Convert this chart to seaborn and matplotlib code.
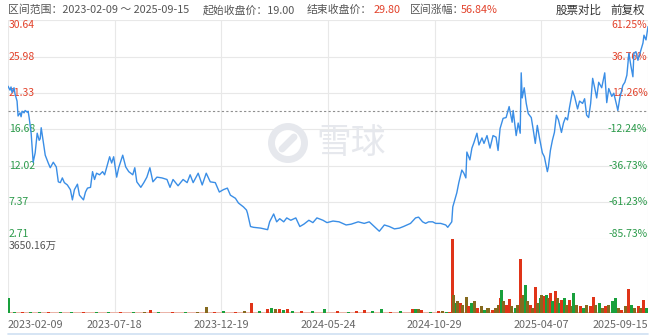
import matplotlib
matplotlib.use("Agg")
import matplotlib.pyplot as plt
import seaborn as sns
import pandas as pd
from matplotlib.lines import Line2D
from matplotlib.patches import Ellipse

# ---------------- data ----------------
sessions = [0, 2, 3, 4, 6, 7, 9, 10, 12, 13, 14, 16, 17, 19, 20, 21, 23, 25, 27, 29,
            31, 32, 33, 37, 40, 42, 45, 48, 50, 52, 54, 56, 59, 62, 64, 66, 69, 71, 75, 77,
            79, 82, 84, 86, 88, 91, 94, 96, 98, 101, 103, 105, 108, 110, 114, 117, 120, 124, 126, 128,
            132, 135, 138, 141, 144, 148, 153, 158, 161, 164, 169, 174, 178, 181, 184, 189, 193, 197, 201, 206,
            210, 214, 218, 221, 226, 229, 234, 237, 238, 241, 244, 251, 258, 260, 264, 267, 270, 274, 277, 281,
            286, 290, 294, 299, 303, 307, 313, 317, 323, 329, 336, 341, 348, 354, 359, 364, 369, 374, 379, 384,
            389, 393, 400, 405, 408, 412, 415, 418, 422, 425, 430, 435, 437, 441, 442, 446, 448, 451, 453, 455,
            456, 459, 461, 463, 466, 468, 471, 473, 476, 479, 482, 485, 487, 489, 492, 495, 498, 501, 502, 505,
            507, 509, 510, 511, 513, 515, 517, 520, 522, 524, 526, 528, 531, 533, 536, 537, 539, 541, 543, 545,
            547, 550, 552, 554, 556, 558, 561, 563, 566, 568, 571, 573, 575, 577, 579, 581, 583, 585, 587, 590,
            593, 595, 597, 600, 602, 605, 606, 608, 611, 613, 615, 617, 619, 621, 622, 624, 626, 628, 631, 632,
            634, 636]
prices = [22.2, 21.7, 22.1, 21.4, 22.0, 21.2, 20.3, 18.4, 18.8, 18.3, 19.0, 18.8, 19.1, 18.9, 19.0, 18.2, 16.2, 12.5, 13.7, 16.2,
          15.3, 15.5, 16.9, 13.4, 12.4, 11.8, 12.5, 11.9, 10.0, 9.9, 10.5, 9.9, 9.6, 9.0, 7.7, 9.0, 9.7, 8.3, 7.7, 8.7,
          9.2, 9.3, 11.3, 10.3, 11.1, 10.9, 11.3, 10.9, 11.8, 13.2, 12.4, 13.2, 10.6, 11.8, 13.4, 11.9, 11.3, 10.9, 11.8, 10.0,
          9.3, 9.9, 10.6, 11.8, 10.0, 10.6, 10.5, 10.3, 9.3, 10.3, 9.5, 10.3, 9.9, 10.9, 9.9, 11.1, 9.6, 11.1, 10.0, 9.9,
          8.7, 9.0, 9.2, 8.3, 7.9, 7.3, 6.8, 6.4, 6.0, 4.3, 4.2, 4.1, 3.9, 4.9, 5.9, 4.9, 5.3, 4.9, 5.4, 5.1,
          5.4, 4.3, 4.6, 5.1, 4.8, 5.4, 5.1, 4.8, 5.0, 4.9, 4.5, 4.6, 4.9, 4.7, 4.9, 4.3, 3.7, 4.5, 4.3, 4.0,
          4.1, 4.3, 4.7, 5.4, 5.5, 4.9, 4.7, 4.9, 4.9, 4.7, 4.7, 4.5, 4.2, 4.9, 6.8, 8.6, 9.9, 11.5, 11.1, 10.5,
          13.8, 12.8, 14.3, 15.0, 16.2, 14.7, 15.6, 14.9, 15.9, 14.3, 15.9, 15.7, 14.0, 16.8, 18.1, 18.2, 19.6, 17.6, 19.1, 15.9,
          17.5, 16.2, 23.9, 20.7, 22.0, 20.0, 18.7, 18.2, 16.6, 14.9, 17.2, 15.7, 13.7, 13.2, 11.3, 11.9, 14.0, 15.3, 16.3, 18.5,
          17.9, 16.3, 17.5, 18.2, 17.9, 19.5, 21.6, 20.9, 19.3, 20.3, 20.0, 20.6, 18.5, 18.2, 20.0, 23.2, 22.0, 20.7, 22.7, 22.0,
          23.9, 20.1, 21.9, 20.9, 21.3, 19.7, 19.1, 20.7, 22.3, 22.7, 23.6, 26.4, 24.8, 23.4, 26.4, 26.6, 25.5, 26.4, 27.7, 28.7,
          28.1, 29.8]

vol_sessions = [0, 6, 14, 22, 31, 40, 52, 63, 75, 88, 100, 112, 125, 136, 142, 150, 163, 176, 188, 197,
                205, 214, 226, 235, 242, 250, 258, 262, 266, 270, 274, 278, 283, 292, 303, 315, 327, 338, 346, 354,
                362, 371, 380, 390, 402, 405, 408, 411, 420, 428, 432, 436, 439,
                442, 443, 446, 447, 450, 452, 456, 458, 461, 464, 467, 471, 474, 477, 481, 484, 487, 489, 490, 492,
                495, 498, 500, 504, 506, 509, 510, 512, 514, 516, 519, 521, 524, 526, 529, 530, 533, 535, 537, 539,
                541, 544, 546, 548, 550, 553, 555, 558, 560, 562, 565, 569, 572, 575, 579, 582, 584, 588, 591, 594,
                597, 601, 604, 607, 610, 614, 617, 620, 623, 627, 629, 632, 635]
vol_values = [730, 60, 40, 50, 40, 60, 40, 50, 40, 60, 50, 40, 60, 70, 150, 50, 60, 50, 70, 290,
              60, 80, 70, 90, 490, 120, 200, 230, 180, 210, 160, 200, 120, 90, 80, 200, 90, 70, 90, 150,
              80, 200, 70, 90, 200, 180, 210, 170, 60, 80, 90, 70, 60,
              3650, 890, 490, 590, 490, 390, 810, 340, 490, 590, 240, 340, 150, 240, 150, 240, 390, 730, 1120, 590,
              390, 680, 340, 240, 390, 2680, 730, 880, 1360, 590, 390, 240, 1270, 490, 730, 880, 830, 880, 730, 970,
              590, 1070, 730, 490, 630, 730, 390, 630, 340, 970, 390, 340, 240, 390, 340, 780, 390, 490, 240, 340,
              390, 590, 730, 240, 150, 340, 1170, 390, 240, 340, 240, 630, 240]
vol_dirs = ['g', 'g', 'r', 'g', 'g', 'r', 'g', 'g', 'r', 'g', 'g', 'r', 'g', 'o', 'r', 'g', 'r', 'g', 'o', 'o',
            'r', 'g', 'r', 'o', 'r', 'g', 'r', 'g', 'o', 'r', 'g', 'r', 'g', 'r', 'g', 'g', 'r', 'g', 'r', 'r',
            'g', 'g', 'r', 'g', 'r', 'g', 'o', 'r', 'g', 'r', 'o', 'g', 'r',
            'r', 'o', 'g', 'o', 'r', 'o', 'o', 'r', 'g', 'o', 'r', 'o', 'g', 'o', 'r', 'o', 'o', 'r', 'g', 'o',
            'r', 'r', 'o', 'g', 'o', 'r', 'o', 'o', 'g', 'o', 'r', 'o', 'r', 'o', 'g', 'o', 'r', 'g', 'o', 'r',
            'g', 'r', 'o', 'g', 'r', 'g', 'o', 'r', 'o', 'g', 'o', 'r', 'g', 'o', 'r', 'r', 'o', 'g', 'o', 'r',
            'o', 'g', 'g', 'o', 'r', 'o', 'r', 'g', 'o', 'r', 'o', 'r', 'g']

tick_sessions = [0, 106, 212, 318, 424, 530, 636]
tick_labels = ["2023-02-09", "2023-07-18", "2023-12-19", "2024-05-24",
               "2024-10-29", "2025-04-07", "2025-09-15"]
price_ticks = [30.64, 25.98, 21.33, 16.68, 12.02, 7.37, 2.71]
pct_labels = ["61.25%", "36.76%", "12.26%", "-12.24%", "-36.73%", "-61.23%", "-85.73%"]
start_price = 19.00
end_price = 29.80
change_text = "56.84%"
vol_max = 3650.16

# ---------------- style ----------------
sns.set_theme(style="white")
plt.rcParams['font.family'] = ['Noto Sans CJK SC', 'DejaVu Sans']

RED = '#e2422b'
GREEN = '#2b9a4a'
BAR_COL = {'r': '#e03418', 'g': '#19a03c', 'o': '#856a1e'}
GRID = '#e8e8e8'
LINE = '#3a8ee6'
WM = '#e6e8ed'

W, H = 651, 335
fig = plt.figure(figsize=(W / 100, H / 100), dpi=100)
fig.patch.set_facecolor('white')

def fx(px):
    return px / W

def fy(py):
    return 1 - py / H

AX_W, AX_H = 648 - 8, 239 - 20
ax = fig.add_axes([fx(8), fy(239), AX_W / W, AX_H / H])
axv = fig.add_axes([fx(8), fy(313), AX_W / W, (313 - 239) / H])

for a in (ax, axv):
    for s in a.spines.values():
        s.set_visible(False)
    a.set_xlim(tick_sessions[0], tick_sessions[-1])
    a.set_xticks(tick_sessions)
    a.tick_params(length=0, labelbottom=False, labelleft=False)
    a.set_facecolor('none')

# price panel
ax.set_ylim(price_ticks[-1], price_ticks[0])
ax.set_yticks(price_ticks)
ax.grid(True, color=GRID, linewidth=0.8)
ax.set_axisbelow(True)

df = pd.DataFrame({'session': sessions, 'price': prices})
sns.lineplot(data=df, x='session', y='price', ax=ax, color=LINE, linewidth=1.0, zorder=5)
ax.set_xlabel('')
ax.set_ylabel('')
ax.axhline(start_price, color='#8f8f8f', linewidth=0.8, linestyle=(0, (2, 2)), zorder=3)

n = len(price_ticks)
for i, (v, lab) in enumerate(zip(price_ticks, pct_labels)):
    va = 'top' if i == 0 else ('bottom' if i == n - 1 else 'center')
    col = RED if v > start_price else GREEN
    ax.text(0.001, v, f"{v:.2f}", transform=ax.get_yaxis_transform(), ha='left', va=va,
            color=col, fontsize=7.5, zorder=4)
    ax.text(0.999, v, lab, transform=ax.get_yaxis_transform(), ha='right', va=va,
            color=col, fontsize=7.5, zorder=4)

# watermark (round logo + text)
cx, cy, r = (288 - 8) / AX_W, (239 - 143) / AX_H, 16.5
ax.add_patch(Ellipse((cx, cy), 2 * r / AX_W, 2 * r / AX_H, transform=ax.transAxes, fill=False,
                     edgecolor=WM, linewidth=5, zorder=1))
ax.add_line(Line2D([cx - 6 / AX_W, cx + 6 / AX_W], [cy - 6 / AX_H, cy + 6 / AX_H],
                   transform=ax.transAxes, color=WM, linewidth=5, solid_capstyle='round', zorder=1))
ax.text((316 - 8) / AX_W, cy, "雪球", transform=ax.transAxes, ha='left', va='center',
        fontsize=25, color=WM, zorder=1)

# volume panel
axv.set_ylim(0, vol_max)
axv.set_yticks([])
axv.grid(True, axis='x', color=GRID, linewidth=0.8)
axv.set_axisbelow(True)
axv.axhline(0, color='#eab2a6', linewidth=1.4, zorder=2)
axv.bar(vol_sessions, vol_values, width=3.0,
        color=[BAR_COL[d] for d in vol_dirs], linewidth=0, zorder=3)
axv.text(0.001, 0.98, f"{vol_max:.2f}万", transform=axv.transAxes, ha='left', va='top',
         color='#555555', fontsize=7.5)

for i, (t, lab) in enumerate(zip(tick_sessions, tick_labels)):
    ha = 'left' if i == 0 else ('right' if i == len(tick_sessions) - 1 else 'center')
    axv.text(t, -(325 - 313) / 74, lab, transform=axv.get_xaxis_transform(), ha=ha, va='center',
             color='#666666', fontsize=7.8)

# bottom navigator line
fig.add_artist(Line2D([fx(8), fx(648)], [fy(333.5), fy(333.5)], color='#cfe0f2', linewidth=1.2))

# header
hy = fy(10)
hc = '#555555'
fs = 7.8
fig.text(fx(8), hy, "区间范围：2023-02-09 ～ 2025-09-15", color=hc, fontsize=fs, va='center')
fig.text(fx(203), hy, f"起始收盘价：{start_price:.2f}", color=hc, fontsize=fs, va='center')
fig.text(fx(307), hy, "结束收盘价：", color=hc, fontsize=fs, va='center')
fig.text(fx(374), hy, f"{end_price:.2f}", color=RED, fontsize=fs, va='center')
fig.text(fx(410), hy, "区间涨幅：", color=hc, fontsize=fs, va='center')
fig.text(fx(461), hy, change_text, color=RED, fontsize=fs, va='center')
fig.text(fx(556), hy, "股票对比", color='#333333', fontsize=8.3, va='center')
fig.text(fx(645), hy, "前复权", color='#333333', fontsize=8.3, va='center', ha='right')

fig.savefig("out.png", dpi=100, facecolor='white')
